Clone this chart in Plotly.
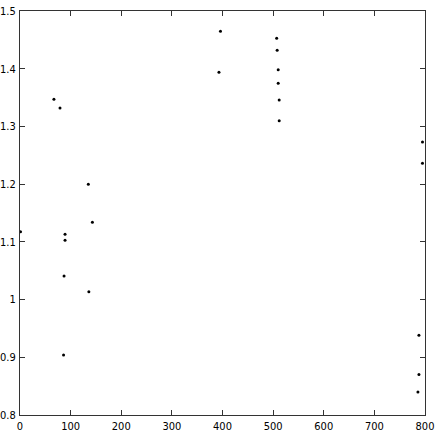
import plotly.graph_objects as go

x_vals = [67, 79, 135, 393, 1, 89, 89, 143, 87, 136, 86,
          396, 507, 508, 510, 510, 512, 512, 795, 795, 788, 788, 786]
y_vals = [1.347, 1.332, 1.200, 1.394, 1.1175, 1.113, 1.103, 1.134, 1.041, 1.0135, 0.904,
          1.465, 1.453, 1.432, 1.398, 1.375, 1.346, 1.310, 1.273, 1.236, 0.938, 0.870, 0.840]

x_ticks = [0, 100, 200, 300, 400, 500, 600, 700, 800]
y_ticks = [0.8, 0.9, 1.0, 1.1, 1.2, 1.3, 1.4, 1.5]

fig = go.Figure(
    go.Scatter(
        x=x_vals,
        y=y_vals,
        mode="markers",
        marker=dict(color="black", size=3),
        cliponaxis=False,
    )
)

axis_style = dict(
    showgrid=False,
    zeroline=False,
    showline=True,
    linecolor="#333333",
    linewidth=1,
    mirror="allticks",
    ticks="inside",
    ticklen=5,
    tickwidth=1,
    tickcolor="#333333",
    automargin=False,
    ticklabelstandoff=1,
    layer="above traces",
    tickfont=dict(family="DejaVu Sans Condensed, Liberation Sans Narrow, Liberation Sans", size=11, color="black"),
)

fig.update_xaxes(range=[0, 800], tickvals=x_ticks, **axis_style)
fig.update_yaxes(range=[0.8, 1.5], tickvals=y_ticks, **axis_style)

fig.update_layout(
    width=436,
    height=436,
    margin=dict(l=20, r=11, t=11, b=21),
    plot_bgcolor="white",
    paper_bgcolor="white",
    showlegend=False,
)

# drop the default page margin, then redraw so the axes are laid out again
post = (
    "document.body.style.margin = '0';"
    "var gd = document.getElementById('{plot_id}');"
    "Plotly.relayout(gd, {'xaxis.ticklen': 5, 'yaxis.ticklen': 5});"
)
fig.write_html("out.html", config={"displayModeBar": False}, post_script=post)
